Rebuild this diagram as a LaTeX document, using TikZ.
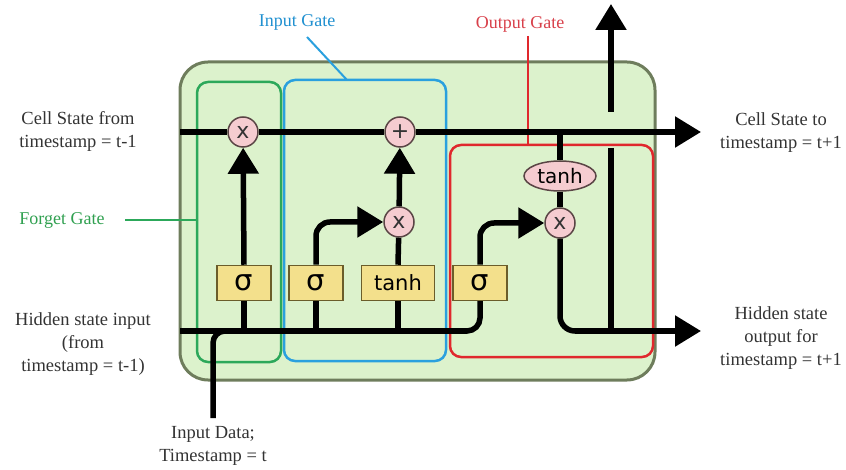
\documentclass[tikz,border=0pt]{standalone}
\usepackage{fontspec}
\setmainfont{Liberation Serif}
\newfontfamily\symfont{DejaVu Sans}
\usetikzlibrary{arrows.meta,shapes.geometric}
\definecolor{mainf}{HTML}{DCF2CC}
\definecolor{mainb}{HTML}{6E7D5C}
\definecolor{fgc}{HTML}{2CA85A}
\definecolor{igc}{HTML}{2AA0DE}
\definecolor{ogc}{HTML}{E0282D}
\definecolor{fgt}{HTML}{30A050}
\definecolor{igt}{HTML}{2090D0}
\definecolor{ogt}{HTML}{D8404A}
\definecolor{opf}{HTML}{F5CCD0}
\definecolor{opb}{HTML}{5A4545}
\definecolor{boxf}{HTML}{F3E08C}
\definecolor{boxb}{HTML}{6B5D2A}
\definecolor{txt}{HTML}{333333}
\begin{document}
\begin{tikzpicture}[x=1pt,y=-1pt,
  lbl/.style={font=\fontsize{18.5}{23}\selectfont, align=center, text=txt},
  gatelbl/.style={font=\fontsize{18}{22}\selectfont},
  opnode/.style={circle, draw=opb, fill=opf, line width=1.5pt, minimum size=30pt, inner sep=0pt, font=\symfont\fontsize{22}{22}\selectfont, text=black!80},
  actbox/.style={rectangle, draw=boxb, fill=boxf, line width=1.5pt, minimum height=35pt, inner sep=0pt, font=\symfont\fontsize{21}{21}\selectfont},
  sig/.style={actbox, minimum width=54pt, font=\symfont\fontsize{29}{29}\selectfont},
  flow/.style={line width=5.5pt, draw=black},
  arr/.style={-{Triangle[length=26pt,width=30pt]}},
  gatebox/.style={line width=2.5pt, rounded corners=11pt}
]
\useasboundingbox (0,0) rectangle (846,470);
% main cell
\draw[line width=3pt, draw=mainb, fill=mainf, rounded corners=28pt] (180,62) rectangle (655,380);
% gate boxes
\draw[gatebox, draw=fgc] (197,82) rectangle (281,362);
\draw[gatebox, draw=igc] (284,80) rectangle (446,361);
\draw[gatebox, draw=ogc] (450,145) rectangle (653,357);
% gate labels
\node[gatelbl, text=igt] (igl) at (297,22) {Input Gate};
\node[gatelbl, text=ogt] (ogl) at (520,24) {Output Gate};
\node[gatelbl, text=fgt] (fgl) at (62,220) {Forget Gate};
\coordinate (igA) at (307,37);
\coordinate (igB) at (347,80);
\coordinate (ogA) at (528,36);
\coordinate (ogB) at (528,145);
\coordinate (fgA) at (125,220);
\coordinate (fgB) at (197,220);
\draw[igc, line width=2pt] (igA) -- (igB);
\draw[ogc, line width=2pt] (ogA) -- (ogB);
\draw[fgc, line width=2pt] (fgA) -- (fgB);
% operation nodes
\node[opnode] (m1) at (243,132) {x};
\node[opnode] (plus) at (400,132) {+};
\node[opnode] (m2) at (399,222) {x};
\node[opnode] (m3) at (560,223) {x};
\node[ellipse, draw=opb, fill=opf, line width=1.5pt, minimum width=72pt, minimum height=30pt, inner sep=0pt, font=\symfont\fontsize{20}{20}\selectfont] (tnh) at (560,176) {tanh};
% activation boxes
\node[sig] (s1) at (244,283) {σ};
\node[sig] (s2) at (316,283) {σ};
\node[actbox, minimum width=73pt] (tb) at (398,283) {tanh};
\node[sig] (s4) at (480,283) {σ};
% coordinates
\coordinate (cin) at (180,132);
\coordinate (cout) at (701,132);
\coordinate (hin) at (180,331);
\coordinate (hout) at (701,331);
\coordinate (xin) at (213,418);
\coordinate (vtop) at (611,148);
\coordinate (upA) at (611,112);
\coordinate (upB) at (611,4);
% cell state line
\draw[flow] (cin) -- (m1);
\draw[flow] (m1) -- (plus);
\draw[flow, arr] (plus) -- (cout);
% hidden state line
\draw[flow, rounded corners=13pt] (hin) -- (s4.south |- hin) -- (s4.south);
\draw[flow] (s1.south |- hin) -- (s1.south);
\draw[flow] (s2.south |- hin) -- (s2.south);
\draw[flow] (tb.south |- hin) -- (tb.south);
% input data
\draw[flow, rounded corners=12pt] (xin) -- (xin |- hin) -- ++(25,0);
% forget gate
\draw[flow, arr] (s1.north) -- (m1);
% input gate
\draw[flow, arr, rounded corners=14pt] (s2.north) -- (s2.north |- m2) -- (m2);
\draw[flow] (tb.north) -- (m2);
\draw[flow, arr] (m2) -- (plus);
% output gate
\draw[flow, arr, rounded corners=14pt] (s4.north) -- (s4.north |- m3) -- (m3);
\draw[flow] (tnh.north |- cin) -- (tnh.north);
\draw[flow] (tnh.south) -- (m3);
\draw[flow, arr, rounded corners=15pt] (m3) -- (m3 |- hout) -- (hout);
\draw[flow] (vtop) -- (vtop |- hout);
\draw[flow, arr] (upA) -- (upB);
% text labels
\node[lbl] (csin) at (78,131) {Cell State from\\timestamp = t-1};
\node[lbl] (csout) at (781,133) {Cell State to\\timestamp = t+1};
\node[lbl] (hsin) at (83,344) {Hidden state input\\(from\\timestamp = t-1)};
\node[lbl] (hsout) at (781,338) {Hidden state\\output for\\timestamp = t+1};
\node[lbl] (xdl) at (213,446) {Input Data;\\Timestamp = t};
\end{tikzpicture}
\end{document}
